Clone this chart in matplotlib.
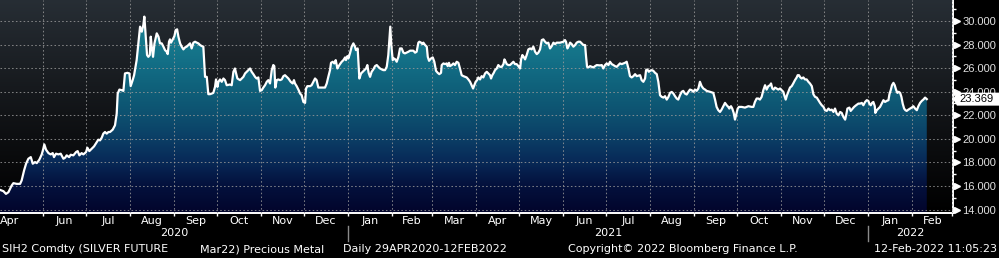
import numpy as np
import matplotlib
matplotlib.use("Agg")
import matplotlib.pyplot as plt
import matplotlib.dates as mdates
from matplotlib.colors import LinearSegmentedColormap
from matplotlib.patches import Polygon
from matplotlib.transforms import blended_transform_factory, IdentityTransform
import calendar

plt.rcParams['font.family'] = ['DejaVu Sans']

# ---------------- data ----------------
start_date = "2020-05-01"
day_offsets = [
    0.8, 3.2, 5.0, 6.7, 9.0, 10.2, 12.5, 14.9, 16.0, 17.7, 19.1, 20.7, 22.4, 23.8, 25.4, 26.6, 28.4, 30.1,
    31.2, 31.9, 33.1, 34.8, 36.4, 37.8, 38.7, 40.1, 41.8, 43.4, 45.3, 46.5, 47.6, 49.3, 50.4, 52.3, 54.2,
    55.3, 56.5, 58.1, 59.3, 61.2, 62.1, 63.5, 65.2, 66.8, 68.7, 69.8, 71.0, 72.2, 73.3, 74.5, 75.7, 76.9,
    78.0, 79.9, 81.5, 82.7, 83.4, 84.6, 86.2, 87.4, 88.5, 90.2, 91.6, 92.5, 93.9, 94.9,
    96.7, 97.9, 99.1, 100.3, 101.4, 102.1, 103.1, 104.0, 104.9, 105.9, 106.6, 107.3, 108.2, 109.2, 110.8,
    112.0, 113.1, 114.3, 115.5, 116.6, 117.8, 118.5, 119.4, 120.1, 120.8, 121.8, 123.2, 124.1, 125.1,
    126.0, 127.2, 128.3, 129.5, 130.7, 131.8, 133.0, 134.2, 135.3, 136.5, 137.7, 138.9, 140.0, 141.2,
    142.4, 143.5, 144.7, 145.9, 147.0, 148.2, 149.4, 150.5, 151.7, 152.4, 153.4, 154.1, 155.2, 156.4,
    157.6, 158.7, 159.9, 162.2, 163.4, 164.6, 165.7, 166.5, 167.4, 169.3, 170.4, 171.6, 172.8, 173.9,
    175.1, 176.3, 177.4, 178.6, 179.8, 180.9, 182.1, 183.3, 184.5, 185.6, 186.8, 188.0, 189.1, 190.3,
    191.5, 192.6, 193.3, 194.0, 195.0, 196.1, 197.3, 198.5, 199.7, 200.8, 202.0, 203.2, 204.8, 206.2,
    207.1, 207.8, 209.0, 210.4, 211.4, 212.5, 213.7, 214.9, 215.6, 216.5, 218.4, 219.5, 220.7, 221.9,
    223.0, 224.2, 225.4, 227.7, 228.9, 230.1, 231.2, 232.4, 233.1, 234.3, 235.4, 236.4, 237.6, 238.5,
    239.4, 240.6, 241.8, 243.0, 243.6, 244.6, 245.3, 246.4, 247.6, 248.8, 249.9, 250.6, 251.8, 253.0,
    254.2, 255.3, 256.5, 257.7, 258.6, 259.5, 260.5, 261.6, 262.8, 264.0, 265.2, 266.3, 267.5, 268.7,
    269.8, 271.0, 272.2, 273.3, 274.0, 274.7, 275.4, 276.4, 277.3, 278.2, 279.2, 280.4, 281.5, 282.7,
    283.9, 285.0,
    287.4, 288.6, 290.9, 292.1, 293.2, 294.4, 295.1, 296.3, 297.2, 297.9, 299.1, 300.3, 301.0, 301.9,
    303.3, 304.5, 305.6, 306.8, 308.0, 309.1, 310.3, 310.8, 312.0, 313.1, 314.3, 315.0, 315.9, 316.6,
    317.8, 319.0, 320.1, 321.3, 322.5, 323.6, 324.8, 326.0, 327.2, 328.3, 329.5, 330.7, 331.8, 332.8,
    333.7, 334.6, 335.6, 336.5, 337.7, 338.8, 340.0, 341.2, 342.4, 343.5, 344.7, 345.4, 346.3, 347.3,
    348.2, 349.4, 350.5, 351.7, 352.9, 354.1, 354.8, 355.7, 356.4, 357.6, 358.7, 359.9, 361.1, 362.2,
    363.4, 364.6, 365.8, 366.5, 367.4, 368.3, 369.3, 370.4, 371.6, 372.8, 373.9, 375.1, 376.3, 377.5,
    378.6, 379.8,
    381.0, 382.1, 383.3, 384.5, 385.6, 386.8, 388.0, 389.2, 390.3, 391.5, 393.8, 396.2, 397.3, 398.0,
    399.0, 399.9, 400.9, 402.0, 403.2, 404.4, 405.5, 406.7, 407.9, 409.0, 410.2, 411.4, 412.1, 412.8,
    413.7, 414.9, 416.1, 417.2, 418.4, 419.6, 421.9, 423.1, 424.2, 425.4, 426.6, 427.8, 428.9, 430.1,
    431.3, 432.4, 433.6, 434.8, 435.9, 437.1, 438.3, 439.4, 440.6, 441.8, 442.9, 444.1, 445.3, 446.5,
    447.6, 450.0, 451.1, 452.3, 453.5, 454.2, 455.1, 456.1, 457.0, 458.2, 459.3, 460.5, 461.7, 462.8,
    464.0, 465.2, 466.4, 467.5, 468.7, 469.9, 471.0, 472.2, 473.4, 474.5,
    475.7, 476.8, 478.0, 479.2, 480.3, 481.5, 482.7, 483.9, 485.0, 486.2, 487.4, 488.5, 489.7, 490.9,
    492.0, 493.2, 494.4, 495.6, 496.7, 499.1, 501.4, 502.6, 503.7, 504.9, 506.1, 507.2, 508.4, 509.6,
    510.8, 511.9, 512.6, 513.8, 514.7, 515.7, 516.6, 517.5, 518.5, 519.4, 521.3, 523.6, 526.0, 528.3,
    529.5, 530.6, 531.8, 533.0, 534.1, 535.3, 536.5, 537.7, 538.8, 540.0, 541.2, 541.9, 542.8, 543.7,
    544.7, 545.8, 547.0, 548.2, 549.4, 550.5, 551.2, 552.2, 553.1, 554.0, 555.2, 556.4, 557.5, 558.7,
    559.9, 560.6, 561.5, 562.5, 563.4, 564.6, 565.7, 566.9, 568.1, 569.2,
    570.5, 571.6, 572.8, 574.0, 575.1, 576.3, 577.5, 578.7, 579.8, 581.0, 582.2, 583.3, 584.5, 585.7,
    586.8, 588.0, 589.2, 590.4, 591.5, 592.7, 593.9, 594.6, 595.5, 596.9, 597.8, 599.2, 600.2, 601.6,
    603.2, 604.4, 605.6, 606.7, 607.9, 609.1, 610.2, 610.9, 611.9, 612.8, 613.7, 614.7, 615.1, 616.1,
    617.3, 618.4, 619.6, 620.8, 621.9, 623.1, 624.3, 625.0, 625.9, 626.8, 627.8, 628.7, 629.6, 630.6,
    631.5, 632.5, 633.4, 634.3, 635.3, 636.2, 637.1, 638.3, 639.5, 640.6, 641.8, 643.0, 644.2, 645.3,
    646.5, 647.7, 648.8, 650.0, 651.2,
]
prices = [
    15.67, 15.56, 15.33, 15.47, 16.04, 16.24, 16.18, 16.18, 16.47, 17.32, 17.89, 18.31, 18.45, 17.89, 18.03, 17.94, 18.23, 18.68,
    19.16, 19.53, 19.08, 18.79, 18.68, 18.79, 18.45, 18.74, 18.68, 18.74, 18.31, 18.40, 18.60, 18.45, 18.65, 18.60, 18.88,
    18.96, 18.60, 18.79, 18.68, 18.88, 19.25, 18.96, 19.16, 19.36, 19.73, 19.93, 19.87, 20.10, 20.44, 20.58, 20.44, 20.58,
    20.58, 20.78, 21.15, 22.14, 23.84, 24.18, 24.13, 24.07, 25.55, 25.60, 25.55, 24.47, 24.98, 25.40,
    26.68, 28.10, 29.52, 29.09, 29.66, 30.37, 28.67, 27.11, 26.96, 27.11, 28.67, 27.82, 26.96, 28.10, 28.95,
    28.67, 28.10, 28.10, 27.82, 27.53, 27.39, 27.19, 28.24, 28.44, 28.16, 28.38, 28.72, 29.23, 29.29,
    28.67, 28.10, 27.82, 27.59, 27.76, 27.82, 27.96, 28.10, 27.67, 28.16, 28.24, 28.16, 28.10, 27.96,
    27.87, 27.82, 25.26, 25.26, 23.79, 23.79, 23.84, 23.90, 24.41, 25.04, 24.41, 24.84, 25.04, 24.84,
    25.12, 24.98, 24.55, 24.61, 24.55, 25.69, 25.97, 25.55, 25.12, 24.98, 25.12, 25.26, 25.55, 25.69,
    25.83, 25.97, 25.69, 25.49, 25.26, 25.12, 25.21, 24.07, 24.13, 24.35, 24.55, 24.84, 24.98, 24.70,
    25.83, 26.26, 26.17, 24.35, 24.98, 25.04, 24.98, 25.04, 25.32, 25.40, 25.26, 25.12, 24.84, 24.70,
    24.98, 24.70, 24.47, 24.13, 23.84, 23.70, 23.13, 23.05, 24.27, 24.47, 24.47, 24.55, 24.84, 25.12,
    24.98, 24.35, 24.35, 24.35, 24.35, 24.70, 25.26, 25.83, 26.45, 26.54, 26.40, 26.68, 25.97, 26.17,
    26.34, 26.54, 26.68, 26.91, 26.68, 27.02, 26.82, 27.25, 27.82, 28.10, 27.82, 27.53, 27.67, 25.12,
    25.55, 25.69, 25.83, 25.97, 26.26, 25.60, 25.26, 25.69, 25.89, 26.17, 26.26, 26.11, 25.97, 25.89,
    25.83, 25.83, 26.11, 27.11, 28.38, 29.52, 27.96, 26.68, 26.82, 26.74, 26.54, 26.96, 27.67, 27.67,
    27.31, 27.25,
    27.39, 27.48, 27.48, 27.31, 27.39, 28.16, 28.24, 28.16, 28.04, 28.16, 27.96, 27.82, 26.96, 26.62,
    26.82, 26.91, 26.54, 25.77, 25.60, 25.49, 25.60, 26.26, 26.40, 26.34, 26.40, 26.17, 26.45, 26.17,
    26.26, 26.40, 26.26, 26.54, 26.45, 25.97, 25.40, 25.32, 25.26, 25.21, 25.04, 24.84, 24.55, 24.27,
    24.55, 24.84, 24.98, 25.21, 25.04, 25.32, 25.21, 25.55, 25.69, 25.55, 25.40, 25.12, 25.40, 25.60,
    25.83, 25.97, 26.26, 26.11, 26.11, 26.34, 26.74, 26.54, 26.34, 26.26, 26.26, 26.40, 26.54, 26.34,
    26.34, 26.17, 25.97, 26.74, 27.11, 26.96, 26.74, 27.11, 27.59, 27.67, 27.59, 27.82, 27.39, 27.19,
    27.31, 27.59,
    28.38, 28.44, 28.24, 28.10, 28.16, 27.67, 27.87, 28.16, 28.04, 28.16, 28.16, 28.24, 28.38, 28.24,
    27.67, 27.87, 28.16, 28.04, 27.82, 27.96, 28.16, 28.24, 28.24, 28.10, 27.96, 27.96, 26.96, 26.11,
    26.06, 26.17, 26.11, 26.06, 26.17, 26.26, 26.23, 26.26, 25.97, 26.26, 26.40, 26.26, 26.54, 26.34,
    26.26, 26.17, 26.11, 26.26, 26.40, 26.34, 26.40, 26.45, 26.54, 25.97, 25.32, 25.21, 25.32, 25.49,
    25.32, 25.40, 24.98, 24.84, 25.12, 25.83, 25.89, 25.69, 25.77, 25.83, 25.77, 25.60, 25.49, 24.84,
    23.70, 23.56, 23.50, 23.62, 23.33, 23.56, 23.90, 23.98, 23.84, 23.62,
    23.42, 23.33, 23.70, 23.99, 24.07, 23.84, 23.76, 23.99, 24.18, 24.13, 23.99, 24.18, 24.07, 24.27,
    24.84, 24.47, 24.27, 24.18, 24.07, 23.99, 23.90, 23.33, 22.71, 22.43, 22.28, 22.48, 22.77, 23.05,
    22.85, 22.71, 22.57, 22.77, 22.57, 22.20, 21.63, 22.08, 22.57, 22.71, 22.71, 22.65, 22.77, 22.71,
    22.71, 23.13, 23.42, 23.42, 23.33, 23.56, 24.13, 24.55, 24.18, 24.47, 24.55, 24.70, 24.27, 24.18,
    24.35, 24.27, 24.18, 24.27, 24.13, 23.99, 23.70, 23.33, 23.70, 23.99, 24.35, 24.47, 24.70, 24.98,
    25.21, 25.40, 25.40, 25.21, 25.12, 25.21, 25.04, 25.04, 24.84, 24.70,
    24.47, 23.79, 23.56, 23.50, 23.28, 23.05, 22.85, 22.71, 22.43, 22.37, 22.57, 22.43, 22.48, 22.28,
    22.57, 22.14, 22.00, 22.28, 22.20, 21.86, 21.63, 22.00, 22.57, 22.65, 22.37, 22.57, 22.71, 22.85,
    22.99, 22.99, 23.05, 22.85, 23.13, 23.28, 23.22, 22.99, 22.85, 23.05, 23.13, 22.77, 22.20, 22.43,
    22.57, 22.71, 22.99, 23.28, 23.13, 23.22, 23.28, 23.79, 24.13, 24.55, 24.75, 24.55, 24.18, 23.90,
    23.99, 23.90, 23.56, 22.99, 22.57, 22.43, 22.37, 22.48, 22.57, 22.65, 22.77, 22.57, 22.43, 22.77,
    23.05, 23.22, 23.33, 23.50, 23.369,
]
month_labels = ['Apr', 'Jun', 'Jul', 'Aug', 'Sep', 'Oct', 'Nov', 'Dec', 'Jan', 'Feb', 'Mar', 'Apr',
                'May', 'Jun', 'Jul', 'Aug', 'Sep', 'Oct', 'Nov', 'Dec', 'Jan', 'Feb']
label_months = ['2020-04', '2020-06', '2020-07', '2020-08', '2020-09', '2020-10', '2020-11', '2020-12',
                '2021-01', '2021-02', '2021-03', '2021-04', '2021-05', '2021-06', '2021-07', '2021-08',
                '2021-09', '2021-10', '2021-11', '2021-12', '2022-01', '2022-02']
year_labels = ['2020', '2021', '2022']
y_ticks = [14, 16, 18, 20, 22, 24, 26, 28, 30]
y_minor = [15, 17, 19, 21, 23, 25, 27, 29, 31]
footer_parts = ['SIH2 Comdty (SILVER FUTURE', 'Mar22) Precious Metal', 'Daily 29APR2020-12FEB2022',
                'Copyright\u00a9 2022 Bloomberg Finance L.P.', '12-Feb-2022 11:05:23']

# ---------------- layout ----------------
W, H = 999, 258
ax_right_px = 953
ax_bottom_px = 212.5
fig = plt.figure(figsize=(W / 100, H / 100), dpi=100, facecolor='black')
ax = fig.add_axes([0, (H - ax_bottom_px) / H, ax_right_px / W, ax_bottom_px / H])
ax_h = ax_bottom_px

base = mdates.date2num(np.datetime64(start_date))
x = base + np.array(day_offsets)
y = np.array(prices)
x0 = base + 0.8
x1 = mdates.date2num(np.datetime64('2022-03-01')) + 0.6
y0, y1 = 13.75, 31.78

# background gradient
bg_cmap = LinearSegmentedColormap.from_list('bg', [(0, '#000000'), (0.45, '#111316'), (1, '#272e35')])
grad = np.linspace(0, 1, 256).reshape(-1, 1)
ax.imshow(grad, extent=[x0, x1, y0, y1], origin='lower', aspect='auto', cmap=bg_cmap, zorder=0,
          interpolation='bilinear')

# area gradient clipped by the filled region
area_cmap = LinearSegmentedColormap.from_list('area', [
    (0.00, '#02052c'), (0.13, '#04123e'), (0.24, '#082a58'), (0.35, '#0b3f66'),
    (0.46, '#0d5170'), (0.57, '#0f5f79'), (0.68, '#126c84'), (0.79, '#16788c'), (1.00, '#1d8696')])
im = ax.imshow(grad, extent=[x0, x1, y0, y1], origin='lower', aspect='auto', cmap=area_cmap, zorder=1,
               interpolation='bilinear')
verts = [(x[0], y0)] + list(zip(x, y)) + [(x[-1], y0)]
poly = Polygon(verts, closed=True, facecolor='none', edgecolor='none')
ax.add_patch(poly)
im.set_clip_path(poly)

# price line
ax.plot(x, y, color='white', lw=1.6, zorder=3, solid_joinstyle='round')

ax.set_xlim(x0, x1)
ax.set_ylim(y0, y1)

# grid & ticks
month_starts = np.arange(np.datetime64('2020-06'), np.datetime64('2022-04'), dtype='datetime64[M]').astype('datetime64[D]')
ax.set_xticks(mdates.date2num(month_starts))
ax.set_xticklabels([])
ax.set_yticks(y_ticks)
ax.set_yticks(y_minor, minor=True)
ax.yaxis.tick_right()
ax.set_yticklabels([f'{v:.3f}' for v in y_ticks], color='#e0e0e0', fontsize=8, family='Liberation Sans')
ax.tick_params(axis='y', which='major', length=0, pad=6.8)
ax.tick_params(axis='y', which='minor', length=2.3, width=1, color='white', direction='out')
ax.tick_params(axis='x', which='major', length=2.3, width=1, color='white', direction='out')
ax.set_axisbelow(False)
ax.grid(True, which='major', color='#9a9a9a', lw=0.75, linestyle=(0, (1.5, 2.2)), alpha=0.8)

for s in ['top', 'left']:
    ax.spines[s].set_visible(False)
ax.spines['right'].set_color('white')
ax.spines['right'].set_linewidth(1.4)
ax.spines['bottom'].set_color('white')
ax.spines['bottom'].set_linewidth(1.4)
ax.patch.set_visible(False)

# major y tick triangles
tri_tr = blended_transform_factory(ax.transAxes, ax.transData)
ax.plot([1 + 3.5 / ax_right_px] * len(y_ticks), y_ticks, ls='none', marker='>', ms=5, color='white',
        mec='white', transform=tri_tr, clip_on=False, zorder=5)

# month labels
lab_tr = blended_transform_factory(ax.transData, ax.transAxes)
for name, ym in zip(month_labels, label_months):
    ms = np.datetime64(ym, 'D')
    yr, mo = int(ym[:4]), int(ym[5:7])
    mid = mdates.date2num(ms) + calendar.monthrange(yr, mo)[1] / 2
    if mid < x0:
        ax.text(x0, -(221 - ax_h) / ax_h, name, transform=lab_tr, ha='left', va='center',
                color='white', fontsize=8)
    else:
        ax.text(mid, -(221 - ax_h) / ax_h, name, transform=lab_tr, ha='center', va='center',
                color='white', fontsize=8)

# year labels and separators
for yl in year_labels:
    ys = mdates.date2num(np.datetime64(f'{yl}-01-01'))
    ye = mdates.date2num(np.datetime64(f'{int(yl) + 1}-01-01'))
    a, b = max(ys, x0), min(ye, x1)
    ax.text((a + b) / 2, -(233.5 - ax_h) / ax_h, yl, transform=lab_tr, ha='center', va='center',
            color='white', fontsize=8)
    if ys > x0:
        ax.plot([ys, ys], [-(226 - ax_h) / ax_h, -(241 - ax_h) / ax_h], transform=lab_tr,
                color='#8a8a8a', lw=1, clip_on=False)

# footer
footer_x = [2, 200, 343, 568, 997]
for i, (txt, fx) in enumerate(zip(footer_parts, footer_x)):
    fig.text(fx / W, 1 - 249 / H, txt, ha='right' if i == len(footer_parts) - 1 else 'left',
             va='center', color='white', fontsize=8)

# last price tag
yc = ax.transData.transform((x[-1], y[-1]))[1]
hh = 6.5
tag = Polygon([(ax_right_px, yc), (ax_right_px + 4, yc + hh), (W, yc + hh), (W, yc - hh),
               (ax_right_px + 4, yc - hh)], closed=True, facecolor='white', edgecolor='none',
              transform=IdentityTransform(), zorder=10)
fig.add_artist(tag)
fig.text(977 / W, yc / H, f'{y[-1]:.3f}', ha='center', va='center', color='black', fontsize=8,
         family='Liberation Sans', zorder=11)

fig.savefig('out.png', dpi=100, facecolor='black')
